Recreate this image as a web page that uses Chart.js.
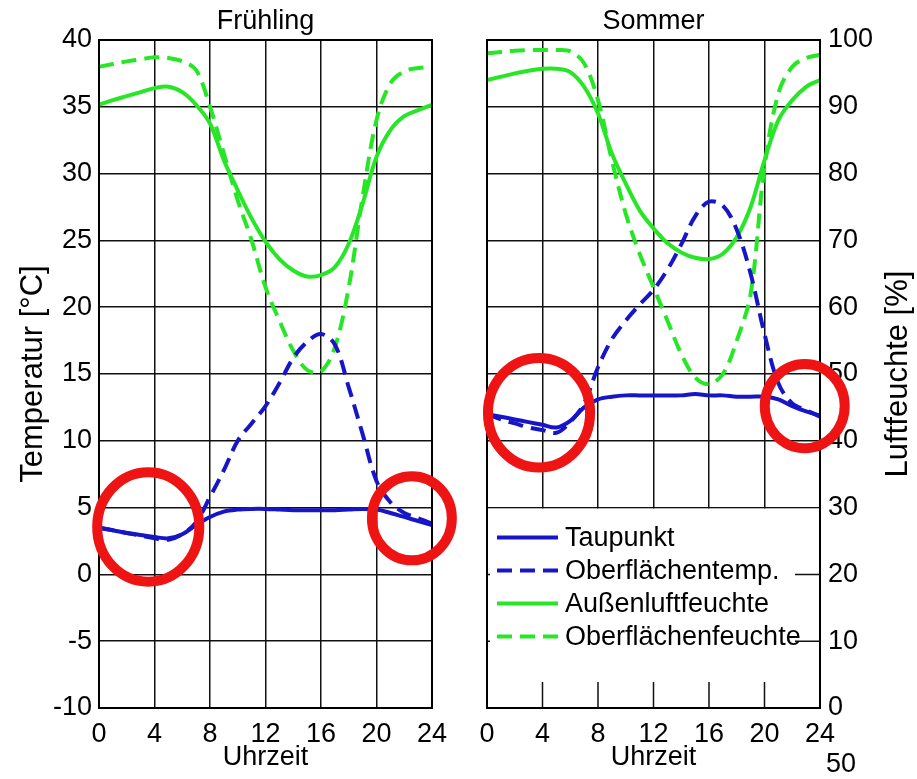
<!DOCTYPE html>
<html>
<head>
<meta charset="utf-8">
<script src="https://cdn.jsdelivr.net/npm/chart.js@4"></script>
<style>
  body { margin: 0; background: #fff; }
  #wrap { position: relative; width: 917px; height: 779px; }
  canvas { position: absolute; top: 0; }
</style>
</head>
<body>
<div id="wrap">
  <canvas id="chartFr" width="460" height="779" style="left:0px"></canvas>
  <canvas id="chartSo" width="457" height="779" style="left:460px"></canvas>
</div>
<script>
// Uhrzeit [h]
var hours = [0,1,2,3,4,5,6,7,8,9,10,11,12,13,14,15,16,17,18,19,20,21,22,23,24];

// Frühling: Temperaturen [°C]
var frTaupunkt = [3.5,3.3,3.1,2.95,2.8,2.7,3.0,3.7,4.3,4.7,4.85,4.9,4.9,4.85,4.8,4.8,4.8,4.8,4.85,4.9,4.85,4.6,4.3,4.0,3.7];
var frOberTemp = [3.5,3.3,3.1,2.9,2.7,2.6,3.0,3.9,5.8,7.8,10.0,11.3,12.6,14.3,16.2,17.4,18.0,17.2,14.0,10.5,7.0,5.4,4.6,4.2,3.8];
// Frühling: Feuchten [%]
var frAussenRH = [90.3,91.0,91.6,92.2,92.8,93.0,92.2,90.3,87.5,82.0,77.5,73.3,69.8,67.2,65.5,64.6,64.8,66.0,69.5,75.5,82.5,86.5,88.6,89.5,90.3];
var frOberRH   = [96.0,96.4,96.8,97.1,97.4,97.3,96.8,95.5,90.0,83.0,76.0,70.0,63.0,58.0,53.5,50.6,50.4,54.0,63.0,76.5,88.0,93.5,95.3,95.8,96.0];

// Sommer: Temperaturen [°C]
var soTaupunkt = [12.0,11.8,11.6,11.4,11.2,11.0,11.5,12.5,13.1,13.3,13.4,13.4,13.4,13.4,13.4,13.5,13.4,13.4,13.3,13.3,13.3,13.1,12.6,12.2,11.9];
var soOberTemp = [12.0,11.6,11.3,11.0,10.8,10.6,11.4,12.8,15.5,17.6,19.0,20.2,21.3,22.8,24.7,26.8,27.9,27.6,25.8,22.5,18.0,14.3,12.8,12.3,11.8];
// Sommer: Feuchten [%]
var soAussenRH = [94.0,94.5,95.0,95.4,95.7,95.7,95.2,93.0,89.0,83.0,78.5,74.5,71.8,69.6,68.2,67.4,67.2,68.0,70.5,75.0,82.0,88.0,91.0,93.0,94.0];
var soOberRH   = [98.0,98.2,98.4,98.5,98.5,98.5,98.3,96.5,91.0,82.0,74.0,68.0,63.0,58.0,53.0,49.5,48.5,50.0,55.0,62.0,81.0,92.0,96.0,97.3,97.8];

var seriesNames = ["Taupunkt", "Oberflächentemp.", "Außenluftfeuchte", "Oberflächenfeuchte"];

// markierte Bereiche (Mitte in Uhrzeit / °C, Halbachsen in h / °C)
var frMarks = [{x: 3.55, y: 3.55, rx: 3.68, ry: 4.1}, {x: 22.55, y: 4.2, rx: 2.88, ry: 3.15}];
var soMarks = [{x: 3.75, y: 12.1, rx: 3.68, ry: 4.1}, {x: 22.9, y: 12.6, rx: 2.88, ry: 3.15}];

var BLUE = '#1616c8';
var GREEN = '#26e626';
var FONT = 'Liberation Sans';
var DASH = [15, 8];

function pts(ys) {
    return hours.map(function(h, i){ return {x: h, y: ys[i]}; });
}

function makeSets(tau, oberT, aussen, oberRH, tAxis, hAxis) {
    var base = {fill: false, pointRadius: 0, borderWidth: 4, tension: 0.35};
    return [
        Object.assign({label: seriesNames[0], data: pts(tau), borderColor: BLUE, yAxisID: tAxis}, base),
        Object.assign({label: seriesNames[1], data: pts(oberT), borderColor: BLUE, borderDash: DASH, yAxisID: tAxis}, base),
        Object.assign({label: seriesNames[2], data: pts(aussen), borderColor: GREEN, yAxisID: hAxis}, base),
        Object.assign({label: seriesNames[3], data: pts(oberRH), borderColor: GREEN, borderDash: DASH, yAxisID: hAxis}, base)
    ];
}

var xScale = {
    type: 'linear', min: 0, max: 24,
    ticks: {stepSize: 4, color: '#000', font: {family: FONT, size: 27}, padding: 10, maxRotation: 0},
    grid: {color: '#111', lineWidth: 1.5, drawTicks: false},
    border: {color: '#000', width: 2},
    title: {display: true, text: 'Uhrzeit', color: '#000', font: {family: FONT, size: 27}, padding: {top: 0, bottom: 5}},
    afterFit: function(s){ s.height = 71; }
};

// Rahmen um die Zeichenfläche
var framePlugin = {
    id: 'frame',
    afterDatasetsDraw: function(chart) {
        var a = chart.chartArea, c = chart.ctx;
        c.save();
        c.strokeStyle = '#000';
        c.lineWidth = 2;
        c.strokeRect(a.left, a.top, a.right - a.left, a.bottom - a.top);
        c.restore();
    }
};

function marksPlugin(marks, tAxis) {
    return {
        id: 'marks',
        afterDraw: function(chart) {
            var xs = chart.scales.x, ys = chart.scales[tAxis], c = chart.ctx;
            c.save();
            c.strokeStyle = '#ee1414';
            c.lineWidth = 10;
            marks.forEach(function(m){
                var cx = xs.getPixelForValue(m.x), cy = ys.getPixelForValue(m.y);
                var rx = Math.abs(xs.getPixelForValue(m.x + m.rx) - cx);
                var ry = Math.abs(ys.getPixelForValue(m.y + m.ry) - cy);
                c.beginPath();
                c.ellipse(cx, cy, rx, ry, 0, 0, Math.PI * 2);
                c.stroke();
            });
            c.restore();
        }
    };
}

// Legende unten im Sommer-Diagramm
var legendPlugin = {
    id: 'boxLegend',
    afterDatasetsDraw: function(chart) {
        var a = chart.chartArea, c = chart.ctx;
        var xs = chart.scales.x, hs = chart.scales.yH;
        var top = hs.getPixelForValue(30);
        c.save();
        c.fillStyle = '#fff';
        c.fillRect(a.left + 1, top + 1, a.right - a.left - 2, a.bottom - top - 2);
        c.strokeStyle = '#111';
        c.lineWidth = 1.5;
        c.beginPath();
        [4, 8, 12, 16, 20].forEach(function(v){
            var px = xs.getPixelForValue(v);
            c.moveTo(px, a.bottom - 26);
            c.lineTo(px, a.bottom);
        });
        [10, 20].forEach(function(v){
            var py = hs.getPixelForValue(v);
            c.moveTo(a.right - 25, py);
            c.lineTo(a.right, py);
            c.moveTo(a.left, py);
            c.lineTo(a.left + 3, py);
        });
        c.stroke();
        chart.data.datasets.forEach(function(ds, i){
            var y = top + 30 + i * 33;
            c.strokeStyle = ds.borderColor;
            c.lineWidth = 4;
            c.setLineDash(ds.borderDash || []);
            c.beginPath();
            c.moveTo(a.left + 10, y);
            c.lineTo(a.left + 71, y);
            c.stroke();
            c.setLineDash([]);
            c.fillStyle = '#000';
            c.font = '27px "' + FONT + '"';
            c.textBaseline = 'middle';
            c.textAlign = 'left';
            c.fillText(ds.label, a.left + 78, y + 1);
        });
        c.restore();
    }
};

// rechte Achsenbeschriftung (von unten nach oben) und Zusatzzahl
var rightTitlePlugin = {
    id: 'rightTitle',
    afterDraw: function(chart) {
        var a = chart.chartArea, c = chart.ctx;
        c.save();
        c.fillStyle = '#000';
        c.font = '31px "' + FONT + '"';
        c.textAlign = 'center';
        c.textBaseline = 'middle';
        c.translate(438, (a.top + a.bottom) / 2);
        c.rotate(-Math.PI / 2);
        c.fillText('Luftfeuchte [%]', 0, 0);
        c.restore();
        c.save();
        c.fillStyle = '#000';
        c.font = '27px "' + FONT + '"';
        c.textAlign = 'center';
        c.textBaseline = 'middle';
        c.fillText('50', 381, 765);
        c.restore();
    }
};

var frChart = new Chart(document.getElementById('chartFr').getContext('2d'), {
    type: 'line',
    data: {datasets: makeSets(frTaupunkt, frOberTemp, frAussenRH, frOberRH, 'y', 'yH')},
    options: {
        responsive: false, animation: false,
        layout: {padding: {left: 0, right: 28, top: 0, bottom: 0}},
        plugins: {
            legend: {display: false}, tooltip: {enabled: false},
            title: {display: true, text: 'Frühling', fullSize: false, color: '#000',
                    font: {family: FONT, size: 27, weight: 'normal'}, padding: {top: 5, bottom: 2.6}}
        },
        scales: {
            x: xScale,
            y: {
                position: 'left', min: -10, max: 40,
                ticks: {stepSize: 5, color: '#000', font: {family: FONT, size: 27}, padding: 7},
                grid: {color: '#111', lineWidth: 1.5, drawTicks: false},
                border: {color: '#000', width: 2},
                title: {display: true, text: 'Temperatur [°C]', color: '#000', font: {family: FONT, size: 31}, padding: {top: 15, bottom: 0}},
                afterFit: function(s){ s.width = 99; }
            },
            yH: {display: false, min: 0, max: 100}
        }
    },
    plugins: [framePlugin, marksPlugin(frMarks, 'y')]
});

var soChart = new Chart(document.getElementById('chartSo').getContext('2d'), {
    type: 'line',
    data: {datasets: makeSets(soTaupunkt, soOberTemp, soAussenRH, soOberRH, 'yT', 'yH')},
    options: {
        responsive: false, animation: false,
        layout: {padding: {left: 27, right: 0, top: 0, bottom: 0}},
        plugins: {
            legend: {display: false}, tooltip: {enabled: false},
            title: {display: true, text: 'Sommer', fullSize: false, color: '#000',
                    font: {family: FONT, size: 27, weight: 'normal'}, padding: {top: 5, bottom: 2.6}}
        },
        scales: {
            x: Object.assign({}, xScale),
            yT: {display: false, min: -10, max: 40},
            yH: {
                position: 'right', min: 0, max: 100,
                ticks: {stepSize: 10, color: '#000', font: {family: FONT, size: 27}, padding: 8},
                grid: {color: '#111', lineWidth: 1.5, drawTicks: false},
                border: {color: '#000', width: 2},
                afterFit: function(s){ s.width = 97; }
            }
        }
    },
    plugins: [framePlugin, legendPlugin, marksPlugin(soMarks, 'yT'), rightTitlePlugin]
});
</script>
</body>
</html>
